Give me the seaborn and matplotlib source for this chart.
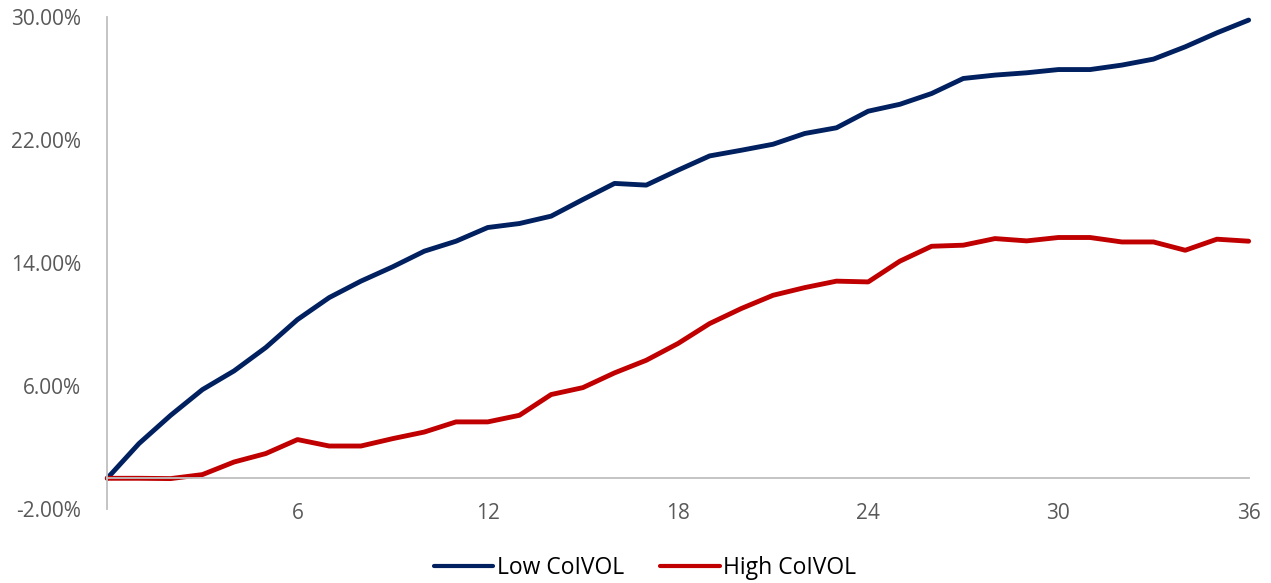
import pandas as pd
import matplotlib.pyplot as plt
import seaborn as sns
from matplotlib.ticker import PercentFormatter
from matplotlib.lines import Line2D

# Cumulative returns (%) by month after formation
months = list(range(0, 37))
low_coivol = [0, 2.26, 4.10, 5.77, 6.99, 8.51, 10.33, 11.76, 12.83, 13.76,
              14.78, 15.43, 16.32, 16.58, 17.06, 18.14, 19.19, 19.08, 20.05, 20.98,
              21.35, 21.74, 22.44, 22.81, 23.89, 24.34, 25.04, 26.02, 26.24, 26.39,
              26.60, 26.60, 26.89, 27.28, 28.08, 28.99, 29.82]
high_coivol = [0, 0, -0.02, 0.24, 1.06, 1.61, 2.52, 2.10, 2.10, 2.58,
               3.01, 3.67, 3.67, 4.10, 5.45, 5.90, 6.86, 7.68, 8.77, 10.07,
               11.05, 11.91, 12.41, 12.83, 12.78, 14.13, 15.10, 15.17, 15.60, 15.45,
               15.67, 15.67, 15.38, 15.38, 14.84, 15.56, 15.43]
series_names = ['Low CoIVOL', 'High CoIVOL']
x_ticks = [6, 12, 18, 24, 30, 36]
y_ticks = [-2, 6, 14, 22, 30]

data = pd.DataFrame({
    'Month': months * 2,
    'Return': low_coivol + high_coivol,
    'Group': [series_names[0]] * len(months) + [series_names[1]] * len(months),
})

sns.set_style('white')
plt.rcParams['font.family'] = ['Open Sans', 'DejaVu Sans']
plt.rcParams['axes.unicode_minus'] = False

fig = plt.figure(figsize=(12.71, 5.83), dpi=100)
ax = fig.add_axes([0.0844, 0.1269, 0.898, 0.8434])

sns.lineplot(data=data, x='Month', y='Return', hue='Group', ax=ax,
             palette={'Low CoIVOL': '#002060', 'High CoIVOL': '#C00000'},
             linewidth=3.5, legend=False)
for line in ax.lines:
    line.set_clip_on(False)
    line.set_solid_capstyle('round')

ax.set_xlim(0, 36)
ax.set_ylim(-2, 30)
ax.set_xticks(x_ticks)
ax.set_yticks(y_ticks)
ax.yaxis.set_major_formatter(PercentFormatter(decimals=2))
ax.set_xlabel('')
ax.set_ylabel('')

gray = '#BFBFBF'
for side in ['top', 'right']:
    ax.spines[side].set_visible(False)
ax.spines['bottom'].set_position(('data', 0))
ax.spines['bottom'].set_color(gray)
ax.spines['left'].set_color(gray)
ax.spines['bottom'].set_linewidth(1.3)
ax.spines['left'].set_linewidth(1.3)

ax.tick_params(axis='both', direction='out', length=6, width=1.3, color=gray,
               labelcolor='#595959', labelsize=15, pad=12)
ax.tick_params(axis='y', pad=13)

# legend below the plot
handles = [Line2D([], [], color='#002060', linewidth=3, solid_capstyle='round'),
           Line2D([], [], color='#C00000', linewidth=3, solid_capstyle='round')]
fig.legend(handles, series_names, loc='center', bbox_to_anchor=(0.5075, 0.026),
           ncol=2, frameon=False, fontsize=16.5, handlelength=2.6,
           handletextpad=0.15, columnspacing=1.6, labelcolor='black')

fig.savefig('out.png', dpi=100)
